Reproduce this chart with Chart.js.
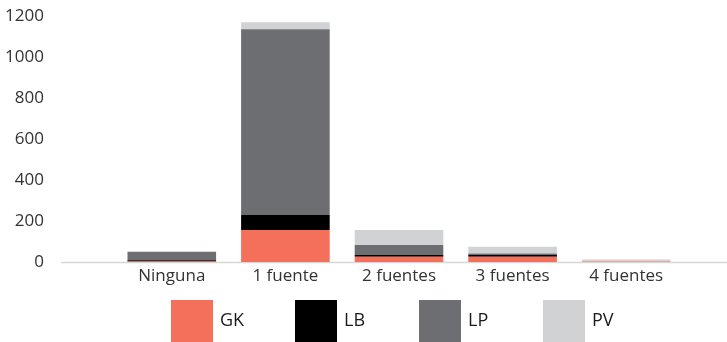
<!DOCTYPE html>
<html>
<head>
<meta charset="utf-8">
<script src="https://cdn.jsdelivr.net/npm/chart.js@4/dist/chart.umd.min.js"></script>
<style>
  html, body { margin: 0; padding: 0; background: #fff; }
  #wrap { position: relative; width: 727px; height: 342px; }
</style>
</head>
<body>
<div id="wrap"><canvas id="c" width="727" height="342"></canvas></div>
<script>
// ---- data ----
const categories = ['Ninguna', '1 fuente', '2 fuentes', '3 fuentes', '4 fuentes'];
const seriesNames = ['GK', 'LB', 'LP', 'PV'];
const GK = [3, 156, 26, 26, 2];
const LB = [5, 73, 8, 8, 0];
const LP = [42, 906, 49, 8, 0];
const PV = [0, 34, 73, 33, 10];
const yTicks = [0, 200, 400, 600, 800, 1000, 1200];

const colors = ['#f4705b', '#000000', '#6d6e71', '#d1d2d4'];
const values = [GK, LB, LP, PV];

const FONT = '"Open Sans", "DejaVu Sans", sans-serif';

const baselinePlugin = {
  id: 'baseline',
  beforeDatasetsDraw(chart) {
    const y = chart.scales.y.getPixelForValue(0);
    const ctx = chart.ctx;
    ctx.save();
    ctx.strokeStyle = '#d6d6d6';
    ctx.lineWidth = 1.5;
    ctx.beginPath();
    ctx.moveTo(61, y + 0.5);
    ctx.lineTo(chart.width, y + 0.5);
    ctx.stroke();
    ctx.restore();
  }
};

const legendPlugin = {
  id: 'customLegend',
  afterDraw(chart) {
    const ctx = chart.ctx;
    ctx.save();
    ctx.font = '18px ' + FONT;
    ctx.textBaseline = 'middle';
    ctx.textAlign = 'left';
    chart.data.datasets.forEach((ds, i) => {
      const x = 171 + 124 * i;
      const top = 300;
      ctx.fillStyle = ds.backgroundColor;
      ctx.fillRect(x, top, 42, 42);
      ctx.fillStyle = '#1a1a1a';
      ctx.fillText(ds.label, x + 49, top + 21);
    });
    ctx.restore();
  }
};

new Chart(document.getElementById('c'), {
  type: 'bar',
  data: {
    labels: categories,
    datasets: seriesNames.map((name, i) => ({
      label: name,
      data: values[i],
      backgroundColor: colors[i],
      borderWidth: 0,
      categoryPercentage: 1.0,
      barPercentage: 0.78
    }))
  },
  options: {
    responsive: false,
    animation: false,
    devicePixelRatio: 1,
    layout: { padding: { top: 16, right: 44, bottom: 47, left: 0 } },
    plugins: {
      legend: { display: false },
      tooltip: { enabled: false }
    },
    scales: {
      x: {
        stacked: true,
        grid: { display: false, drawTicks: false },
        border: { display: false },
        ticks: {
          font: { family: FONT, size: 17 },
          color: '#333333',
          padding: 4,
          maxRotation: 0,
          autoSkip: false
        },
        afterFit(scale) {
          scale.height = 33;
          scale.paddingLeft = 0;
          scale.paddingRight = 0;
        }
      },
      y: {
        stacked: true,
        min: 0,
        max: 1200,
        afterBuildTicks(scale) { scale.ticks = yTicks.map(v => ({ value: v })); },
        grid: { display: false, drawTicks: false },
        border: { display: false },
        ticks: {
          font: { family: FONT, size: 17 },
          color: '#333333',
          padding: 71,
          callback: v => String(v)
        },
        afterFit(scale) {
          scale.width = 115;
          scale.paddingTop = 0;
          scale.paddingBottom = 0;
        }
      }
    }
  },
  plugins: [baselinePlugin, legendPlugin]
});
</script>
</body>
</html>
